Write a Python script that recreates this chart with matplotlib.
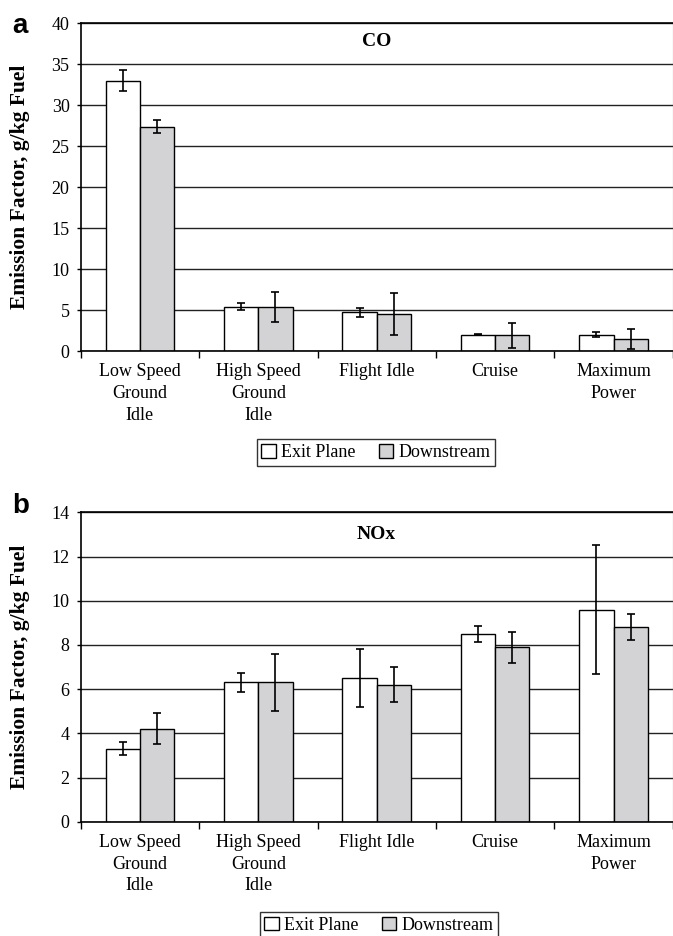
import matplotlib
matplotlib.use("Agg")
import matplotlib.pyplot as plt
import numpy as np

plt.rcParams['font.family'] = ['Liberation Serif', 'DejaVu Serif']

modes = ["Low Speed\nGround\nIdle", "High Speed\nGround\nIdle", "Flight Idle", "Cruise", "Maximum\nPower"]
series = ["Exit Plane", "Downstream"]

# CO, g/kg fuel
co_exit = [33.0, 5.4, 4.7, 2.0, 2.0]
co_exit_err = [1.3, 0.4, 0.5, 0.05, 0.3]
co_down = [27.4, 5.4, 4.5, 1.9, 1.5]
co_down_err = [0.8, 1.8, 2.6, 1.5, 1.2]

# NOx, g/kg fuel
nox_exit = [3.3, 6.3, 6.5, 8.5, 9.6]
nox_exit_err = [0.3, 0.45, 1.3, 0.35, 2.9]
nox_down = [4.2, 6.3, 6.2, 7.9, 8.8]
nox_down_err = [0.7, 1.3, 0.8, 0.7, 0.6]

W, H = 673, 936
fig = plt.figure(figsize=(W / 100, H / 100), dpi=100)

GRAY = '#d3d3d5'
bw = 0.29


def panel(rect, exit_v, exit_e, down_v, down_e, ymax, ystep, title, letter, lx, ly, ty):
    ax = fig.add_axes(rect)
    x = np.arange(len(modes))
    ax.set_axisbelow(True)
    ax.yaxis.grid(True, color='#222222', linewidth=1.0)
    ekw = dict(ecolor='black', elinewidth=1.2, capsize=2.7, capthick=1.2)
    ax.bar(x - bw / 2, exit_v, bw, color='white', edgecolor='black', linewidth=1.0,
           yerr=exit_e, error_kw=ekw, label=series[0])
    ax.bar(x + bw / 2, down_v, bw, color=GRAY, edgecolor='black', linewidth=1.0,
           yerr=down_e, error_kw=ekw, label=series[1])
    ax.set_xlim(-0.5, len(modes) - 0.5)
    ax.set_ylim(0, ymax)
    ax.set_yticks(np.arange(0, ymax + 0.1, ystep))
    ax.tick_params(axis='y', direction='out', length=3, width=1, pad=5, labelsize=13)
    ax.set_xticks(np.arange(-0.5, len(modes)), labels=[])
    ax.set_xticks(x, labels=modes, minor=True)
    for t in ax.get_xticklabels(minor=True):
        t.set_linespacing(1.35)
    ax.tick_params(axis='x', which='major', direction='out', length=5, width=1)
    ax.tick_params(axis='x', which='minor', length=0, pad=9, labelsize=13)
    for s in ['left', 'bottom', 'top']:
        ax.spines[s].set_linewidth(1.2)
        ax.spines[s].set_color('black')
    ax.spines['right'].set_color('#888888')
    ax.spines['right'].set_linewidth(0.8)
    ax.text(0.5, ty, title, transform=ax.transAxes, ha='center', va='center',
            fontsize=14, fontweight='bold')
    fig.text(lx, ly, letter, fontsize=20, fontweight='bold', family='Liberation Sans',
             ha='left', va='baseline')
    return ax


ax1 = panel([80.7 / W, 1 - 351 / H, 592 / W, (351 - 23.3) / H],
            co_exit, co_exit_err, co_down, co_down_err, 40, 5, "CO", "a",
            12 / W, 1 - 33 / H, 0.943)
ax2 = panel([80.7 / W, 1 - 821.7 / H, 592 / W, (821.7 - 512.3) / H],
            nox_exit, nox_exit_err, nox_down, nox_down_err, 14, 2, "NOx", "b",
            12 / W, 1 - 513 / H, 0.927)

fig.text(20 / W, 1 - 187 / H, "Emission Factor, g/kg Fuel", rotation=90,
         ha='center', va='center', fontsize=15.5, fontweight='bold')
fig.text(20 / W, 1 - 667 / H, "Emission Factor, g/kg Fuel", rotation=90,
         ha='center', va='center', fontsize=15.5, fontweight='bold')

legkw = dict(ncol=2, fontsize=13, frameon=True, fancybox=False, edgecolor='black',
             handlelength=0.8, handleheight=0.8, handletextpad=0.3, columnspacing=1.3,
             borderpad=0.25, borderaxespad=0)
h, l = ax1.get_legend_handles_labels()
leg1 = fig.legend(h, l, loc='center', bbox_to_anchor=(376 / W, 1 - 452.5 / H), **legkw)
leg2 = fig.legend(h, l, loc='upper center', bbox_to_anchor=(379 / W, 1 - 912 / H), **legkw)
for leg in (leg1, leg2):
    leg.get_frame().set_linewidth(1.0)

fig.savefig("out.png", dpi=100)
